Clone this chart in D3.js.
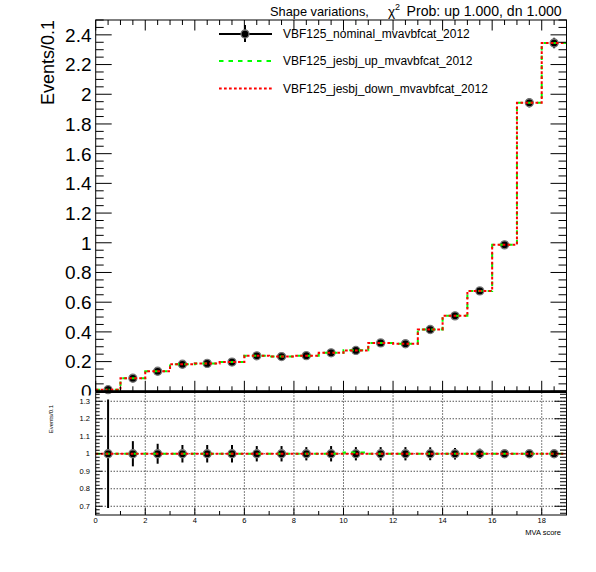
<!DOCTYPE html>
<html lang="en">
<head>
    <meta charset="UTF-8">
    <title>Shape variations</title>
    <script src="https://d3js.org/d3.v7.min.js"></script>
    <style>
        body { margin: 0; background: #fff; }
        text { font-family: "Liberation Sans", Arial, Helvetica, sans-serif; fill: #000; }
    </style>
</head>
<body>
<div id="my_dataviz"></div>
<script>
    // bin edges 0..19, width 1
    var binEdges = d3.range(0, 20);
    var nominal = [0.011, 0.088, 0.135, 0.182, 0.188, 0.197, 0.239, 0.234, 0.240, 0.259,
                   0.275, 0.326, 0.320, 0.416, 0.508, 0.676, 0.986, 1.943, 2.345];
    var jesUp   = [0.011, 0.088, 0.135, 0.182, 0.188, 0.197, 0.239, 0.234, 0.240, 0.259,
                   0.277, 0.326, 0.320, 0.416, 0.508, 0.676, 0.986, 1.943, 2.345];
    var jesDown = [0.011, 0.088, 0.135, 0.182, 0.188, 0.197, 0.239, 0.234, 0.240, 0.259,
                   0.275, 0.326, 0.320, 0.416, 0.508, 0.676, 0.986, 1.943, 2.345];
    // relative stat error of nominal (as seen in the ratio pad)
    var relErr  = [0.31, 0.072, 0.057, 0.05, 0.05, 0.05, 0.044, 0.044, 0.038, 0.044,
                   0.038, 0.038, 0.038, 0.037, 0.033, 0.029, 0.023, 0.016, 0.015];
    var mainYTicks = d3.range(0, 2.41, 0.2);
    var ratioYTicks = [0.7, 0.8, 0.9, 1, 1.1, 1.2, 1.3];
    var xLabelTicks = d3.range(0, 19, 2);
    var legendNames = ["VBF125_nominal_mvavbfcat_2012", "VBF125_jesbj_up_mvavbfcat_2012", "VBF125_jesbj_down_mvavbfcat_2012"];

    var W = 596, H = 572;
    var padL = 95.7, padR = 566.5, padT = 20, mainBottom = 391.3, ratioTop = 392.5, ratioBottom = 515;

    var svg = d3.select("#my_dataviz").append("svg")
        .attr("width", W).attr("height", H);

    var x = d3.scaleLinear().domain([0, 19]).range([padL, padR]);
    var y = d3.scaleLinear().domain([0, 2.5]).range([mainBottom, padT]);
    var yr = d3.scaleLinear().domain([0.65, 1.35]).range([ratioBottom, ratioTop]);

    var ratio = function(arr) { return arr.map(function(v, i) { return v / nominal[i]; }); };

    function stepPath(vals, ys) {
        var p = "";
        vals.forEach(function(v, i) {
            p += (i === 0 ? "M" : "L") + x(binEdges[i]) + "," + ys(v) + "L" + x(binEdges[i] + 1) + "," + ys(v);
        });
        return p;
    }

    function drawPoints(g, vals, errs, ys) {
        g.selectAll("line.err").data(vals).enter().append("line")
            .attr("x1", function(d, i) { return x(i + 0.5); })
            .attr("x2", function(d, i) { return x(i + 0.5); })
            .attr("y1", function(d, i) { return ys(d + errs[i]); })
            .attr("y2", function(d, i) { return ys(d - errs[i]); })
            .attr("stroke", "#000").attr("stroke-width", 2);
        g.selectAll("circle").data(vals).enter().append("circle")
            .attr("cx", function(d, i) { return x(i + 0.5); })
            .attr("cy", function(d) { return ys(d); })
            .attr("r", 4)
            .attr("fill", "#000").attr("stroke", "#777").attr("stroke-width", 1.3);
    }

    function drawHists(g, ys, up, down) {
        g.append("path").attr("d", stepPath(up, ys)).attr("fill", "none")
            .attr("stroke", "#00ff00").attr("stroke-width", 2).attr("stroke-dasharray", "4.5,5");
        g.append("path").attr("d", stepPath(down, ys)).attr("fill", "none")
            .attr("stroke", "#ff0000").attr("stroke-width", 2).attr("stroke-dasharray", "2.7,2.3");
    }

    function tickLines(g, list) {
        list.forEach(function(t) {
            g.append("line").attr("x1", t[0]).attr("y1", t[1]).attr("x2", t[2]).attr("y2", t[3])
                .attr("stroke", "#000").attr("stroke-width", 1);
        });
    }

    // ---------- main pad ----------
    var main = svg.append("g");
    var mainAbsErr = nominal.map(function(v, i) { return v * relErr[i]; });
    drawPoints(main.append("g"), nominal, mainAbsErr, y);
    drawHists(main.append("g"), y, jesUp, jesDown);

    var mt = [];
    d3.range(0, 2.501, 0.05).forEach(function(v) {
        var major = Math.abs(v / 0.2 - Math.round(v / 0.2)) < 1e-6;
        var len = major ? 16 : 8;
        mt.push([padL, y(v), padL + len, y(v)]);
        mt.push([padR, y(v), padR - len, y(v)]);
    });
    d3.range(0, 19.01, 0.5).forEach(function(v) {
        var major = v % 2 === 0;
        var len = major ? 10.5 : 5;
        mt.push([x(v), mainBottom, x(v), mainBottom - len]);
        mt.push([x(v), padT, x(v), padT + len]);
    });
    tickLines(main, mt);

    main.append("rect").attr("x", padL).attr("y", padT).attr("width", padR - padL).attr("height", mainBottom - padT)
        .attr("fill", "none").attr("stroke", "#000").attr("stroke-width", 1);
    main.append("line").attr("x1", padL).attr("x2", padR).attr("y1", mainBottom).attr("y2", mainBottom)
        .attr("stroke", "#000").attr("stroke-width", 2.2);

    main.selectAll("text.ylab").data(mainYTicks).enter().append("text")
        .attr("x", 91.5).attr("y", function(d) { return y(d); }).attr("dy", "0.36em")
        .attr("text-anchor", "end").attr("font-size", 19)
        .text(function(d) { return String(+d.toFixed(1)); });

    main.append("text").attr("transform", "translate(54,20) rotate(-90)")
        .attr("text-anchor", "end").attr("font-size", 18).text("Events/0.1");

    // title
    main.append("text").attr("x", 270).attr("y", 15.5).attr("font-size", 12.8).text("Shape variations,");
    var chi = main.append("text").attr("x", 388).attr("y", 15.5).attr("font-size", 13.5);
    chi.append("tspan").text("\u03c7");
    chi.append("tspan").attr("font-size", 9).attr("dy", -5.5).text("2");
    main.append("text").attr("x", 561.7).attr("y", 15.5).attr("font-size", 14.1).attr("text-anchor", "end")
        .text("Prob: up 1.000, dn 1.000");

    // legend
    var leg = main.append("g");
    var legY = [34, 61, 88.5];
    leg.append("line").attr("x1", 219).attr("x2", 272).attr("y1", legY[0]).attr("y2", legY[0])
        .attr("stroke", "#000").attr("stroke-width", 2);
    leg.append("line").attr("x1", 245).attr("x2", 245).attr("y1", legY[0] - 9).attr("y2", legY[0] + 8)
        .attr("stroke", "#000").attr("stroke-width", 2);
    leg.append("circle").attr("cx", 245).attr("cy", legY[0]).attr("r", 4)
        .attr("fill", "#000").attr("stroke", "#777").attr("stroke-width", 1.3);
    leg.append("line").attr("x1", 219).attr("x2", 272).attr("y1", legY[1]).attr("y2", legY[1])
        .attr("stroke", "#00ff00").attr("stroke-width", 2).attr("stroke-dasharray", "4.5,5");
    leg.append("line").attr("x1", 219).attr("x2", 272).attr("y1", legY[2]).attr("y2", legY[2])
        .attr("stroke", "#ff0000").attr("stroke-width", 2).attr("stroke-dasharray", "2.7,2.3");
    leg.selectAll("text").data(legendNames).enter().append("text")
        .attr("x", 283).attr("y", function(d, i) { return legY[i]; }).attr("dy", "0.36em")
        .attr("font-size", 12).text(function(d) { return d; });

    // ---------- ratio pad ----------
    svg.append("rect").attr("x", 0).attr("y", 395.5).attr("width", padL - 1).attr("height", 30).attr("fill", "#fff");
    var rp = svg.append("g");

    // grid
    rp.selectAll("line.gy").data(ratioYTicks).enter().append("line")
        .attr("x1", padL).attr("x2", padR).attr("y1", function(d) { return yr(d); }).attr("y2", function(d) { return yr(d); })
        .attr("stroke", "#000").attr("stroke-width", 1).attr("stroke-dasharray", "1,2");
    rp.selectAll("line.gx").data(xLabelTicks.slice(1)).enter().append("line")
        .attr("y1", ratioTop).attr("y2", ratioBottom).attr("x1", function(d) { return x(d); }).attr("x2", function(d) { return x(d); })
        .attr("stroke", "#000").attr("stroke-width", 1).attr("stroke-dasharray", "1,2");

    var ones = nominal.map(function() { return 1; });
    drawPoints(rp.append("g"), ones, relErr, yr);
    drawHists(rp.append("g"), yr, ratio(jesUp), ratio(jesDown));

    var rt = [];
    d3.range(0.66, 1.35, 0.02).forEach(function(v) {
        var major = Math.abs(v * 10 - Math.round(v * 10)) < 1e-6;
        rt.push([padL, yr(v), padL + (major ? 6.5 : 4), yr(v)]);
        rt.push([padR, yr(v), padR - (major ? 12 : 6.5), yr(v)]);
    });
    d3.range(0, 19.01, 1).forEach(function(v) {
        rt.push([x(v), ratioBottom, x(v), ratioBottom - (v % 2 === 0 ? 7 : 4)]);
    });
    tickLines(rp, rt);
    rp.append("rect").attr("x", padL).attr("y", ratioTop).attr("width", padR - padL).attr("height", ratioBottom - ratioTop)
        .attr("fill", "none").attr("stroke", "#000").attr("stroke-width", 1);

    rp.selectAll("text.ry").data(ratioYTicks).enter().append("text")
        .attr("x", 90).attr("y", function(d) { return yr(d); }).attr("dy", "0.36em")
        .attr("text-anchor", "end").attr("font-size", 7.5)
        .text(function(d) { return String(+d.toFixed(1)); });
    rp.selectAll("text.rx").data(xLabelTicks).enter().append("text")
        .attr("x", function(d) { return x(d); }).attr("y", 522.5)
        .attr("text-anchor", "middle").attr("font-size", 7.5)
        .text(function(d) { return d; });
    rp.append("text").attr("x", 561).attr("y", 535).attr("text-anchor", "end").attr("font-size", 7.5).text("MVA score");
    rp.append("text").attr("transform", "translate(52.5,405) rotate(-90)")
        .attr("text-anchor", "end").attr("font-size", 6).text("Events/0.1");
</script>
</body>
</html>
